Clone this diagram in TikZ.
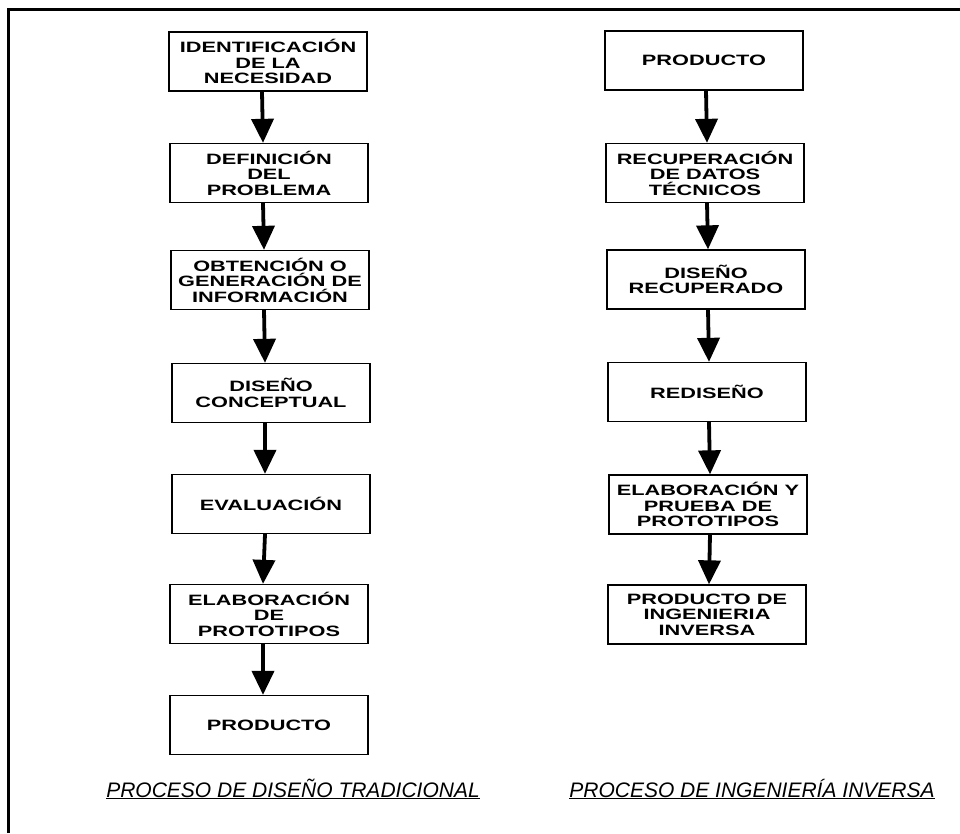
\documentclass[tikz,border=0pt]{standalone}
\usepackage{fontspec}
\setmainfont{Liberation Sans}
\newfontfamily\boxfont{Liberation Sans}[FakeStretch=1.45]
\usetikzlibrary{arrows.meta}
\begin{document}
\begin{tikzpicture}[x=1pt,y=-1pt,
  stepbox/.style={draw, line width=1.3pt, minimum width=198pt, minimum height=59pt,
    align=center, inner sep=0pt, font=\boxfont\bfseries\fontsize{15}{15.5}\selectfont},
  flow/.style={line width=3.8pt, -{Triangle[width=22pt,length=24pt]}},
  ptitle/.style={font=\itshape\fontsize{21}{24}\selectfont, anchor=base, inner sep=0pt},
  frameline/.style={line width=3pt}]
\useasboundingbox (0,0) rectangle (960,833);
% frame
\draw[frameline] (8,833) -- (8,9) -- (960,9);
% left column
\node[stepbox] (L1) at (268,61.5) {IDENTIFICACIÓN\\DE LA\\NECESIDAD};
\node[stepbox] (L2) at (269,173) {DEFINICIÓN\\DEL\\PROBLEMA};
\node[stepbox] (L3) at (270,280) {OBTENCIÓN O\\GENERACIÓN DE\\INFORMACIÓN};
\node[stepbox] (L4) at (271,393) {DISEÑO\\CONCEPTUAL};
\node[stepbox] (L5) at (271,504) {EVALUACIÓN};
\node[stepbox] (L6) at (269,614) {ELABORACIÓN\\DE\\PROTOTIPOS};
\node[stepbox] (L7) at (269,725) {PRODUCTO};
% right column
\node[stepbox] (R1) at (704,60.5) {PRODUCTO};
\node[stepbox] (R2) at (705,173) {RECUPERACIÓN\\DE DATOS\\TÉCNICOS};
\node[stepbox] (R3) at (706,279.5) {DISEÑO\\RECUPERADO};
\node[stepbox] (R4) at (707,392) {REDISEÑO};
\node[stepbox] (R5) at (708,504.5) {ELABORACIÓN Y\\PRUEBA DE\\PROTOTIPOS};
\node[stepbox] (R6) at (707,614.5) {PRODUCTO DE\\INGENIERIA\\INVERSA};
% arrows
\foreach \a/\b in {L1/L2,L2/L3,L3/L4,L4/L5,L5/L6,L6/L7}
  \draw[flow] ([xshift=-6pt]\a.south) -- ([xshift=-6pt]\b.north);
\foreach \a/\b in {R1/R2,R2/R3,R3/R4,R4/R5,R5/R6}
  \draw[flow] ([xshift=2pt]\a.south) -- ([xshift=2pt]\b.north);
% titles
\node[ptitle] (T1) at (293,797) {\underline{PROCESO DE DISEÑO TRADICIONAL}};
\node[ptitle] (T2) at (752,797) {\underline{PROCESO DE INGENIERÍA INVERSA}};
\end{tikzpicture}
\end{document}
